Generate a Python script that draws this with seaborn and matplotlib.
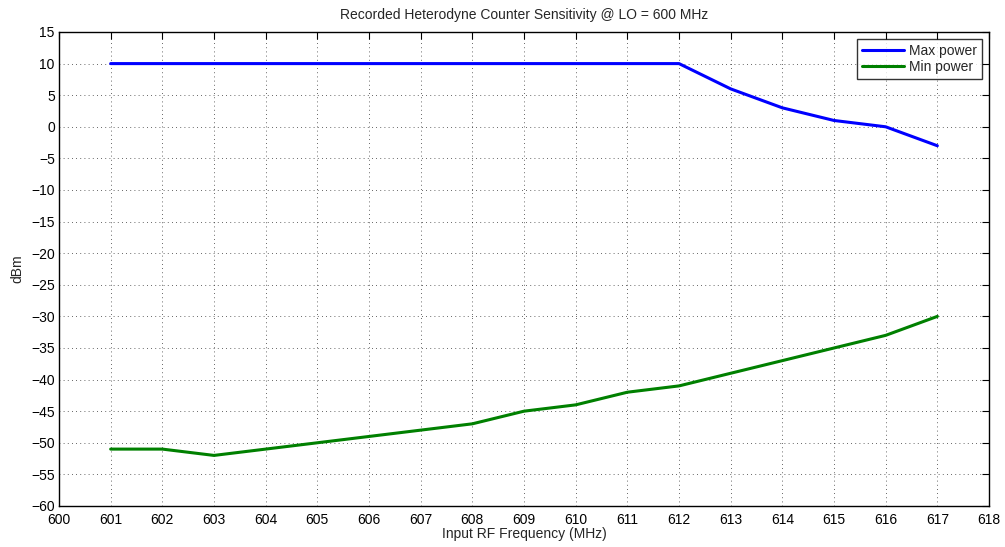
import matplotlib
matplotlib.use("Agg")
import matplotlib.pyplot as plt
import seaborn as sns
import pandas as pd

freq = [601, 602, 603, 604, 605, 606, 607, 608, 609, 610, 611, 612, 613, 614, 615, 616, 617]
max_power = [10, 10, 10, 10, 10, 10, 10, 10, 10, 10, 10, 10, 6, 3, 1, 0, -3]
min_power = [-51, -51, -52, -51, -50, -49, -48, -47, -45, -44, -42, -41, -39, -37, -35, -33, -30]
xticks = list(range(600, 619))
yticks = list(range(-60, 16, 5))

sns.set_style("white")
plt.rcParams['font.family'] = ['Liberation Sans', 'DejaVu Sans']
plt.rcParams['font.size'] = 10

df = pd.DataFrame({"freq": freq + freq,
                   "power": max_power + min_power,
                   "series": ["Max power"] * len(freq) + ["Min power"] * len(freq)})

fig = plt.figure(figsize=(10.05, 5.47), dpi=100)
ax = fig.add_axes([0.0587, 0.075, 0.9254, 0.8665])
sns.lineplot(data=df, x="freq", y="power", hue="series",
             palette={"Max power": "#0000ff", "Min power": "#008000"},
             linewidth=2.2, ax=ax)

ax.set_xlim(600, 618)
ax.set_ylim(-60, 15)
ax.set_xticks(xticks)
ax.set_yticks(yticks)
ax.set_yticklabels([str(v).replace('-', '\u2212') for v in yticks])
ax.grid(True, color='black', linestyle=(0, (1, 4)), linewidth=0.6, alpha=0.8)
ax.tick_params(direction='in', top=True, right=True, length=5, width=0.8,
               labelsize=10, colors='black')
ax.tick_params(axis='x', pad=5)
ax.tick_params(axis='y', pad=3)
for s in ax.spines.values():
    s.set_color('black')
    s.set_linewidth(1.0)
ax.set_xlabel("Input RF Frequency (MHz)", fontsize=10, labelpad=0)
ax.set_ylabel("dBm", fontsize=10, labelpad=5)
ax.set_title("Recorded Heterodyne Counter Sensitivity @ LO = 600 MHz", fontsize=10, pad=9)
leg = ax.legend(loc='upper right', fontsize=10, frameon=True, fancybox=False,
                edgecolor='black', borderaxespad=0.5, handlelength=3, borderpad=0.35,
                labelspacing=0.15, handletextpad=0.4)
leg.get_frame().set_linewidth(1.0)
leg.set_title(None)

fig.savefig("out.png", dpi=100)
